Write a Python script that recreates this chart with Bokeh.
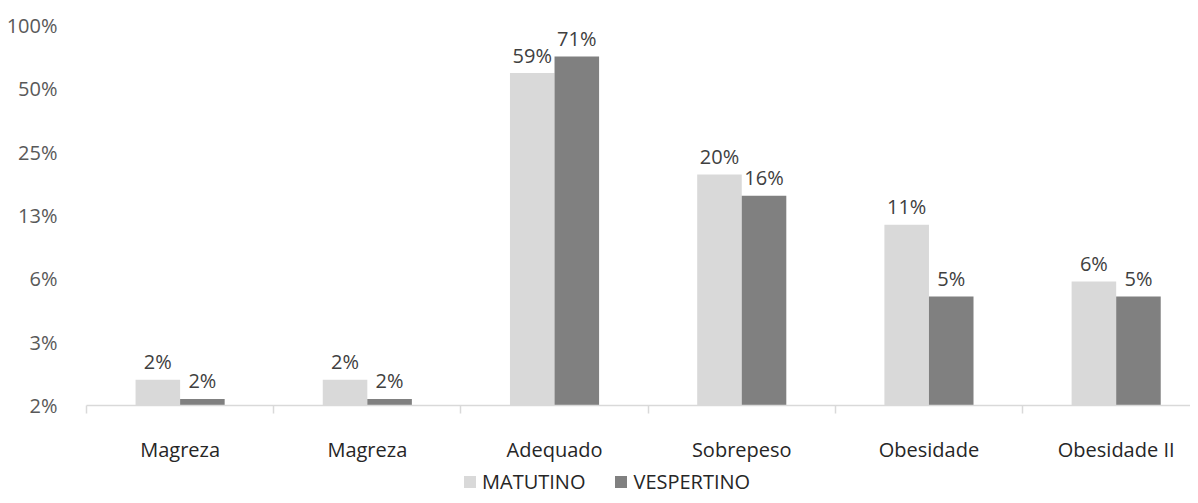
import numpy as np
from bokeh.plotting import figure
from bokeh.layouts import column
from bokeh.models import Range1d, FixedTicker, ColumnDataSource, Legend, LegendItem
from bokeh.core.properties import value
from bokeh.embed import file_html
from bokeh.resources import INLINE

categories = ["Magreza", "Magreza", "Adequado", "Sobrepeso", "Obesidade", "Obesidade II"]
matutino = [2.07, 2.07, 59.4, 19.6, 11.3, 6.07]
vespertino = [1.68, 1.68, 71.3, 15.5, 5.15, 5.15]
matutino_labels = ["2%", "2%", "59%", "20%", "11%", "6%"]
vespertino_labels = ["2%", "2%", "71%", "16%", "5%", "5%"]
series_names = ["MATUTINO", "VESPERTINO"]
y_ticks = [1.5625, 3.125, 6.25, 12.5, 25, 50, 100]
y_tick_labels = ["2%", "3%", "6%", "13%", "25%", "50%", "100%"]

FONT = "Open Sans"
LIGHT = "#D9D9D9"
DARK = "#808080"
AXIS_TXT = "#595959"
CAT_TXT = "#262626"
LBL_TXT = "#404040"

n = len(categories)
centers = np.arange(n) + 0.5
bw = 0.238
ymin = y_ticks[0]

p = figure(width=1190, height=465, y_axis_type="log",
           x_range=Range1d(0, 5.897), y_range=Range1d(ymin, 100),
           output_backend="svg", toolbar_location=None,
           min_border_left=86, min_border_right=0, min_border_top=25, min_border_bottom=59)
p.outline_line_color = None
p.xgrid.grid_line_color = None
p.ygrid.grid_line_color = None

src_m = ColumnDataSource(dict(x=centers - bw / 2, top=matutino, lab=matutino_labels))
src_v = ColumnDataSource(dict(x=centers + bw / 2, top=vespertino, lab=vespertino_labels))

p.vbar(x="x", top="top", bottom=ymin, width=bw, source=src_m,
       fill_color=LIGHT, line_color=None)
p.vbar(x="x", top="top", bottom=ymin, width=bw, source=src_v,
       fill_color=DARK, line_color=None)

for src in (src_m, src_v):
    p.text(x="x", y="top", text="lab", source=src, text_align="center",
           text_baseline="alphabetic", y_offset=-18, text_font=value(FONT),
           text_font_size="20px", text_color=LBL_TXT)

# y axis
p.yaxis.ticker = FixedTicker(ticks=y_ticks)
p.yaxis.major_label_overrides = {t: l for t, l in zip(y_ticks, y_tick_labels)}
p.yaxis.axis_line_color = None
p.yaxis.major_tick_line_color = None
p.yaxis.minor_tick_line_color = None
p.yaxis.major_label_standoff = 23
p.yaxis.major_label_text_font = FONT
p.yaxis.major_label_text_font_size = "20px"
p.yaxis.major_label_text_color = AXIS_TXT

# x axis
p.xaxis.ticker = FixedTicker(ticks=list(centers), minor_ticks=list(range(n + 1)))
p.xaxis.major_label_overrides = {float(c): cat for c, cat in zip(centers, categories)}
p.xaxis.axis_line_color = LIGHT
p.xaxis.axis_line_width = 1.5
p.xaxis.major_tick_line_color = None
p.xaxis.major_tick_out = 0
p.xaxis.major_tick_in = 0
p.xaxis.minor_tick_line_color = LIGHT
p.xaxis.minor_tick_line_width = 1.5
p.xaxis.minor_tick_in = 0
p.xaxis.minor_tick_out = 8
p.xaxis.major_label_standoff = 22
p.xaxis.major_label_text_font = FONT
p.xaxis.major_label_text_font_size = "20px"
p.xaxis.major_label_text_color = CAT_TXT

# legend strip (separate figure so the legend is not clipped by the main frame)
lf = figure(width=1190, height=30, x_range=Range1d(0, 1), y_range=Range1d(0, 1),
            output_backend="svg", toolbar_location=None,
            x_axis_location=None, y_axis_location=None,
            min_border_left=86, min_border_right=0, min_border_top=0, min_border_bottom=0)
lf.outline_line_color = None
lf.xgrid.grid_line_color = None
lf.ygrid.grid_line_color = None
# zero-height swatch renderers, used only for the legend glyphs
swatch = dict(x=[0.5], top=[0.0], bottom=[0.0])
lr_m = lf.vbar(x="x", top="top", bottom="bottom", width=0.1, source=ColumnDataSource(swatch),
               fill_color=LIGHT, line_color=None)
lr_v = lf.vbar(x="x", top="top", bottom="bottom", width=0.1, source=ColumnDataSource(swatch),
               fill_color=DARK, line_color=None)

lg = Legend(items=[LegendItem(label=series_names[0], renderers=[lr_m]),
                   LegendItem(label=series_names[1], renderers=[lr_v])],
            orientation="horizontal", location=(376, 0))
lg.glyph_width = 15
lg.glyph_height = 15
lg.label_standoff = 5
lg.spacing = 28
lg.padding = 0
lg.margin = 0
lg.border_line_color = None
lg.background_fill_alpha = 0
lg.label_text_font = FONT
lg.label_text_font_size = "20px"
lg.label_text_color = CAT_TXT
lf.add_layout(lg, "center")

layout = column(p, lf, spacing=0)
open("out.html", "w").write(file_html(layout, INLINE))
